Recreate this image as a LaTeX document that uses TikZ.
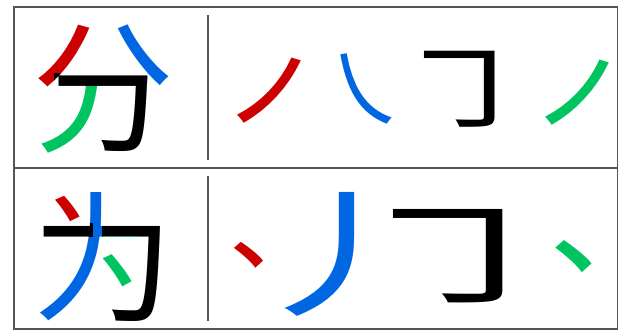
\documentclass[tikz,border=0pt]{standalone}
\usepackage{fontspec}
\newfontfamily\cjk{Noto Sans CJK SC}
\definecolor{sred}{RGB}{204,0,0}
\definecolor{sblue}{RGB}{0,102,225}
\definecolor{sgreen}{RGB}{0,196,96}
\definecolor{framegray}{RGB}{85,85,85}
\tikzset{
  glyph/.style={inner sep=0pt, outer sep=0pt, anchor=base west, font=\cjk\fontsize{142}{142}\selectfont},
  frameline/.style={draw=framegray, line width=1.6pt}
}
% trim a glyph box to its ink: #1 = left offset (em), #2 = width (em), #3 = glyph
\newcommand\inkbox[3]{\makebox[#2em][l]{\hspace*{-#1em}#3}}
\begin{document}
\begin{tikzpicture}[x=1pt,y=1pt]
\useasboundingbox (0,0) rectangle (618,331);
% frame
\draw[frameline] (14,2) rectangle (617.5,324);
\draw[frameline] (14,163) -- (617.5,163);
\draw[frameline] (208,171) -- (208,316);
\draw[frameline] (208,10) -- (208,155);
% 分 with coloured strokes
\begin{scope}[shift={(32,172.5)}, x=142pt, y=142pt]
  \begin{scope}
    \clip (-0.1,1.1) -- (0.5,1.1) -- (0.5,0.605) -- (0.155,0.605) -- (0.155,0.3) -- (-0.1,0.3) -- cycle;
    \node[glyph, text=sred] (f1) at (0,0.12) {分};
  \end{scope}
  \begin{scope}
    \clip (0.5,1.1) -- (1.1,1.1) -- (1.1,0.3) -- (0.81,0.3) -- (0.81,0.605) -- (0.5,0.605) -- cycle;
    \node[glyph, text=sblue] (f2) at (0,0.12) {分};
  \end{scope}
  \begin{scope}
    \clip (0.155,0.605) -- (0.81,0.605) -- (0.81,0.3) -- (1.1,0.3) -- (1.1,-0.2) -- (0.35,-0.2) -- (0.52,0.51) -- (0.155,0.51) -- cycle;
    \node[glyph, text=black] (f3) at (0,0.12) {分};
  \end{scope}
  \begin{scope}
    \clip (0.155,0.51) -- (0.52,0.51) -- (0.35,-0.2) -- (-0.1,-0.2) -- (-0.1,0.3) -- (0.155,0.3) -- cycle;
    \node[glyph, text=sgreen] (f4) at (0,0.12) {分};
  \end{scope}
\end{scope}
% 为 with coloured strokes
\begin{scope}[shift={(32.9,2.7)}, x=142pt, y=142pt]
  \begin{scope}
    \clip (-0.1,1.1) -- (0.39,1.1) -- (0.39,0.74) -- (-0.1,0.74) -- cycle;
    \node[glyph, text=sred] (w1) at (0,0.12) {为};
  \end{scope}
  \begin{scope}
    \clip (0.39,1.1) -- (0.7,1.1) -- (0.7,0.74) -- (0.488,0.74) -- (0.488,0.645) -- (0.5,0.645) -- (0.5,-0.2) -- (-0.1,-0.2) -- (-0.1,0.645) -- (0.42,0.645) -- (0.42,0.74) -- (0.39,0.74) -- cycle;
    \node[glyph, text=sblue] (w2) at (0,0.12) {为};
  \end{scope}
  \begin{scope}
    \clip (-0.1,0.645) rectangle (0.42,0.74)
          (0.488,0.645) rectangle (0.7,0.74)
          (0.7,0.645) -- (0.7,1.1) -- (1.1,1.1) -- (1.1,-0.2) -- (0.5,-0.2) -- (0.5,0.25) -- (0.75,0.25) -- (0.75,0.645) -- cycle;
    \node[glyph, text=black] (w3) at (0,0.12) {为};
  \end{scope}
  \begin{scope}
    \clip (0.5,0.25) rectangle (0.75,0.645);
    \node[glyph, text=sgreen] (w4) at (0,0.12) {为};
  \end{scope}
\end{scope}
% strokes of 分
\node[glyph, text=sred, font=\cjk\fontsize{126}{126}\selectfont] (a1) at (236.5,175.1) {\inkbox{0.08}{0.51}{㇒}};
\node[glyph, text=sblue, font=\cjk\fontsize{92}{92}\selectfont] (a2) at (340.7,207.3) {\inkbox{0.25}{0.55}{㇏}};
\node[glyph, text=black, font=\cjk\fontsize{140}{140}\selectfont] (a3) at (422.8,206.6) {\scalebox{1}[0.7]{\inkbox{0.21}{0.54}{㇆}}};
\node[glyph, text=sgreen, font=\cjk\fontsize{126}{126}\selectfont] (a4) at (544.5,173.6) {\inkbox{0.08}{0.51}{㇒}};
% strokes of 为
\node[glyph, text=sred, font=\cjk\bfseries\fontsize{58}{58}\selectfont] (b1) at (235.2,52.6) {\inkbox{0.26}{0.47}{丶}};
\node[glyph, text=sblue, font=\cjk\fontsize{140}{140}\selectfont] (b2) at (284.9,24.8) {\scalebox{1.35}[1]{\inkbox{0.22}{0.38}{丿}}};
\node[glyph, text=black, font=\cjk\fontsize{140}{140}\selectfont] (b3) at (390.6,31.7) {\scalebox{1.55}[0.86]{\inkbox{0.21}{0.54}{㇆}}};
\node[glyph, text=sgreen, font=\cjk\bfseries\fontsize{72}{72}\selectfont] (b4) at (557.4,45) {\inkbox{0.26}{0.47}{丶}};
\end{tikzpicture}
\end{document}
